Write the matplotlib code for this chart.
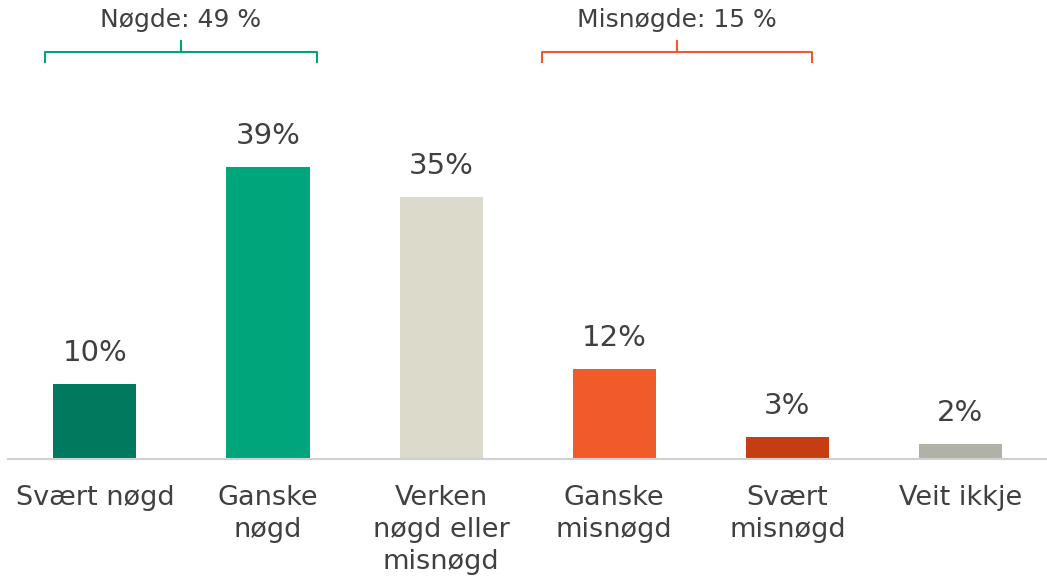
import matplotlib.pyplot as plt

# data
categories = ["Svært nøgd", "Ganske\nnøgd", "Verken\nnøgd eller\nmisnøgd",
              "Ganske\nmisnøgd", "Svært\nmisnøgd", "Veit ikkje"]
values = [10, 39, 35, 12, 3, 2]
colors = ["#007A5E", "#00A57C", "#DCDACB", "#F15A29", "#C43E12", "#B0B2A8"]
group_labels = ["Nøgde: 49 %", "Misnøgde: 15 %"]
group_spans = [(-0.29, 1.28), (2.58, 4.145)]
group_colors = ["#00A57C", "#F15A29"]

plt.rcParams['font.family'] = ['DejaVu Sans']
txt = "#404040"

fig = plt.figure(figsize=(10.47, 5.84), dpi=100)
ax = fig.add_axes([0.008, 125 / 584, 0.992, 450 / 584])

x = range(len(values))
ax.bar(x, values, width=0.48, color=colors, zorder=2)
ax.set_xlim(-0.5, 5.5)
ax.set_ylim(0, 60)

for i, v in enumerate(values):
    ax.annotate(f"{v}%", (i, v), xytext=(0, 12), textcoords="offset points",
                ha="center", va="bottom", fontsize=21, color=txt)

for i, c in enumerate(categories):
    ax.annotate(c, (i, 0), xytext=(0, -19), textcoords="offset points",
                ha="center", va="top", fontsize=19.5, color=txt, linespacing=1.3)

# brackets over groups
for label, (x0, x1), col in zip(group_labels, group_spans, group_colors):
    xm = (x0 + x1) / 2
    ax.plot([x0, x0, x1, x1], [52.9, 54.3, 54.3, 52.9], color=col, lw=1.5,
            clip_on=False, solid_joinstyle="round")
    ax.plot([xm, xm], [54.3, 55.8], color=col, lw=1.5, clip_on=False)
    ax.text(xm, 58.6, label, ha="center", va="center", fontsize=18, color=txt)

for s in ["top", "right", "left"]:
    ax.spines[s].set_visible(False)
ax.spines["bottom"].set_color("#D0D0D0")
ax.spines["bottom"].set_linewidth(1.5)
ax.set_xticks([])
ax.set_yticks([])

fig.savefig("out.png", dpi=100)
